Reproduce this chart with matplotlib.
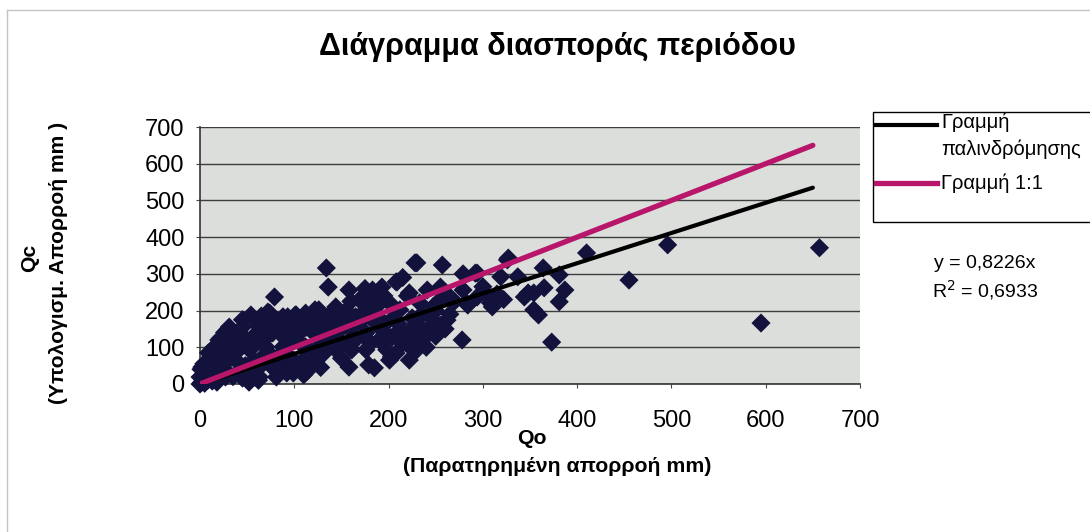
import numpy as np
import matplotlib.pyplot as plt
from matplotlib.patches import Rectangle
from matplotlib.lines import Line2D

plt.rcParams['font.family'] = ['Liberation Sans', 'DejaVu Sans']

qo = [
    # dense cluster near the origin
    0, 2, 5, 8, 3, 10, 13, 6, 1, 4, 12, 16, 20, 18, 9, 15, 22, 25, 27, 30,
    0, 10, 27, 45, 63, 81, 99, 113, 2, 13, 27, 45, 63, 81, 99, 113,
    16, 34, 53, 70, 88, 106, 20, 38, 56, 77, 96, 113, 31, 45, 63, 88, 102,
    54, 74, 93, 107, 122, 29, 63, 72, 54, 79, 101, 83, 58, 8, 40, 48, 35,
    42, 50, 60, 68, 85, 92, 110, 118, 125, 130, 24, 36, 66, 75, 95, 104,
    115, 120, 128, 62, 86, 108, 52, 70, 92, 12, 18, 24, 33, 47, 57,
    5, 7, 10, 14, 18, 22, 26, 35, 40, 50, 55, 65, 75, 85, 90, 95, 100, 105,
    110, 115, 120, 125, 130, 70, 80, 90, 60, 50, 40, 30, 20, 45, 65, 100,
    110, 120, 128, 132, 138, 142,
    # middle band
    134, 136, 158, 183, 193, 208, 222, 169, 144, 126, 112, 187, 201, 212,
    118, 133, 150, 165, 183, 126, 144, 161, 176, 193, 212, 226, 190, 204,
    219, 230, 112, 144, 161, 176, 198, 208, 226, 158, 185, 107, 201, 222,
    136, 150, 165, 181, 140, 160, 203, 179, 215, 240, 235, 255, 265, 270,
    150, 155, 160, 170, 175, 180, 190, 195, 200, 205, 210, 215, 220, 225,
    235, 245, 250, 255, 260, 250, 260, 150, 130, 215, 195, 175,
    # upper band
    230, 257, 228, 209, 292, 327, 319, 337, 241, 255, 279, 294, 284, 308,
    310, 348, 354, 233, 247, 262, 230, 244, 226, 236, 230, 278, 279, 283,
    326, 294, 344, 308, 300, 315, 322,
    # high flows
    410, 364, 381, 455, 365, 387, 354, 381, 359, 373, 496, 657, 595,
]
qc = [
    0, 5, 2, 10, 18, 30, 8, 25, 40, 55, 60, 45, 20, 70, 85, 100, 35, 90, 110, 130,
    19, 19, 19, 16, 19, 19, 30, 33, 46, 38, 38, 38, 46, 57, 65, 74,
    84, 74, 93, 101, 101, 112, 120, 120, 128, 139, 147, 155, 155, 155, 155, 183, 188,
    188, 193, 183, 174, 202, 147, 166, 196, 183, 237, 188, 30, 19, 38, 60, 50, 80,
    140, 110, 170, 60, 80, 120, 150, 80, 130, 165, 110, 100, 110, 50, 160, 140,
    95, 60, 45, 10, 135, 45, 5, 125, 30, 15, 5, 50, 80, 120, 65,
    30, 50, 65, 90, 105, 125, 140, 20, 30, 40, 55, 70, 80, 60, 85, 110, 125, 140,
    165, 180, 140, 100, 80, 150, 170, 160, 120, 100, 90, 75, 50, 175, 185, 50,
    25, 60, 180, 145, 190, 165,
    316, 264, 256, 256, 264, 278, 248, 229, 210, 202, 193, 210, 221, 202,
    155, 166, 174, 183, 174, 128, 120, 125, 139, 147, 147, 155, 120, 128,
    112, 120, 101, 93, 93, 93, 93, 84, 93, 46, 44, 57, 65, 65,
    112, 112, 120, 112, 135, 150, 74, 52, 125, 100, 130, 160, 190, 225,
    150, 200, 225, 170, 200, 230, 180, 160, 130, 180, 165, 110, 240, 180,
    190, 180, 200, 230, 250, 130, 150, 70, 110, 290, 240, 260,
    330, 324, 330, 278, 302, 343, 292, 292, 256, 264, 256, 237, 215, 234,
    210, 248, 202, 221, 210, 174, 166, 153, 139, 120, 93, 120, 300, 220,
    338, 302, 237, 221, 265, 245, 230,
    357, 316, 297, 283, 262, 256, 248, 224, 188, 114, 379, 371, 166,
]

slope = 0.8226
r2 = 0.6933
x_end = 650

BLACK = 'black'
MAGENTA = '#b8166b'

fig = plt.figure(figsize=(10.9, 5.32), dpi=100)
ax = fig.add_axes([200 / 1090, 1 - 384 / 532, 660 / 1090, 257 / 532])
ax.set_facecolor('#dcdedb')

ax.scatter(qo, qc, marker='D', s=95, color='#12123d', edgecolors='none',
           zorder=3, clip_on=False)

xl = np.array([0, x_end])
ax.plot(xl, slope * xl, color=BLACK, lw=3.0, zorder=4, solid_capstyle='round')
ax.plot(xl, xl, color=MAGENTA, lw=3.8, zorder=5, solid_capstyle='round')

ax.set_xlim(0, 700)
ax.set_ylim(0, 700)
ax.set_xticks(range(0, 701, 100))
ax.set_yticks(range(0, 701, 100))
ax.yaxis.grid(True, color='#3d3d3d', lw=1.0)
ax.set_axisbelow(True)
ax.tick_params(labelsize=17, length=3, width=0.8, color='#444444')
ax.tick_params(axis='y', pad=8)
ax.tick_params(axis='x', pad=16)
for s in ['top', 'right']:
    ax.spines[s].set_visible(False)
for s in ['left', 'bottom']:
    ax.spines[s].set_color('#333333')
    ax.spines[s].set_linewidth(1.2)

# axis titles (placed like the Excel original)
fig.text(532 / 1090, 1 - 438 / 532, 'Qo', ha='center', va='center',
         fontsize=15.3, fontweight='bold')
fig.text(557 / 1090, 1 - 467 / 532, '(Παρατηρημένη απορροή mm)', ha='center',
         va='center', fontsize=15.3, fontweight='bold')
fig.text(30 / 1090, 1 - 258 / 532, 'Qc', ha='center', va='center', rotation=90,
         fontsize=15.2, fontweight='bold')
fig.text(59 / 1090, 1 - 263 / 532, '(Υπολογισμ. Απορροή mm )', ha='center',
         va='center', rotation=90, fontsize=15.2, fontweight='bold')

fig.text(557 / 1090, 1 - 47 / 532, 'Διάγραμμα διασποράς περιόδου',
         ha='center', va='center', fontsize=22, fontweight='bold')

# legend box drawn by hand so the handle sits on the first text line
fig.patches.append(Rectangle((873 / 1090, 1 - 222 / 532), 230 / 1090, 110 / 532,
                             transform=fig.transFigure, facecolor='white',
                             edgecolor='black', lw=1.0))
fig.add_artist(Line2D([876 / 1090, 937 / 1090], [1 - 125 / 532] * 2, color=BLACK,
                      lw=3.0, transform=fig.transFigure))
fig.add_artist(Line2D([876 / 1090, 937 / 1090], [1 - 183 / 532] * 2, color=MAGENTA,
                      lw=3.8, transform=fig.transFigure))
fig.text(941 / 1090, 1 - 113 / 532, 'Γραμμή\nπαλινδρόμησης', ha='left', va='top',
         fontsize=14.5, linespacing=1.45)
fig.text(941 / 1090, 1 - 183 / 532, 'Γραμμή 1:1', ha='left', va='center',
         fontsize=14.5)

fig.text(985 / 1090, 1 - 263 / 532, f'y = {slope:.4f}x'.replace('.', ','),
         ha='center', va='center', fontsize=14)
fig.text(985 / 1090, 1 - 290 / 532, f'R$^2$ = {r2:.4f}'.replace('.', ','),
         ha='center', va='center', fontsize=14)

# thin outer chart border (only top and left show in the scan)
fig.add_artist(Line2D([7 / 1090, 1], [1 - 10 / 532] * 2, color='#c4c4c4', lw=1.0,
                      transform=fig.transFigure))
fig.add_artist(Line2D([7 / 1090] * 2, [0, 1 - 10 / 532], color='#c4c4c4', lw=1.0,
                      transform=fig.transFigure))

fig.savefig('out.png', dpi=100)
